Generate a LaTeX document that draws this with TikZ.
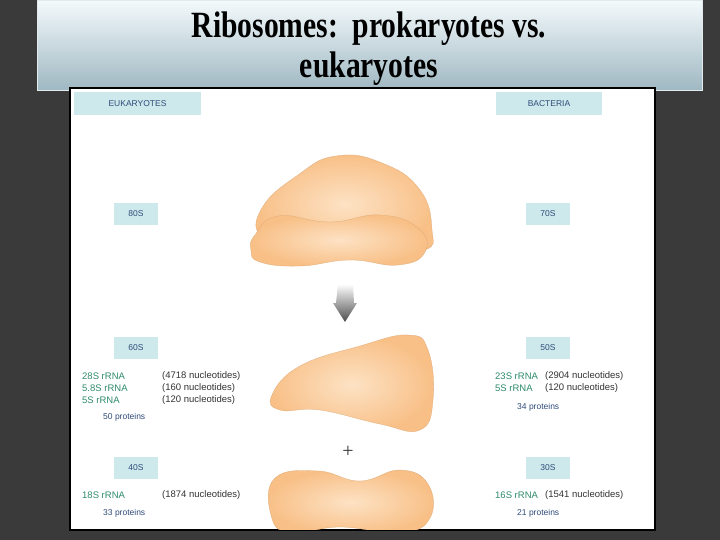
\documentclass[tikz,border=0pt]{standalone}
\usepackage{fontspec}
\setmainfont{Liberation Serif}
\setsansfont{Liberation Sans}
\newfontfamily\titlefont[FakeStretch=0.8]{Liberation Serif}
\begin{document}
\begin{tikzpicture}[x=1pt,y=-1pt,
  lab/.style={fill=labbg,font=\sffamily\fontsize{8.5}{9}\selectfont,text=labtx,inner sep=0pt,anchor=center},
  gr/.style={font=\sffamily\fontsize{9.5}{10}\selectfont,text=grn,anchor=west,inner sep=0pt},
  nt/.style={font=\sffamily\fontsize{9.5}{10}\selectfont,text=black!80,anchor=west,inner sep=0pt},
  pr/.style={font=\sffamily\fontsize{8.5}{10}\selectfont,text=labtx,anchor=west,inner sep=0pt},
  blob/.style={inner color=blobin,outer color=blobout,draw=blobout!90!black,line width=0.3pt}]
\definecolor{bg}{HTML}{3A3A3A}
\definecolor{labbg}{HTML}{CDE9EC}
\definecolor{labtx}{HTML}{2F4B7A}
\definecolor{grn}{HTML}{2E8B6A}
\definecolor{blobin}{HTML}{FDE2C4}
\definecolor{blobout}{HTML}{F8BF86}
\definecolor{ttop}{HTML}{F4FAFC}
\definecolor{tbot}{HTML}{9FB8C2}
\useasboundingbox (0,0) rectangle (720,540);
\fill[bg] (0,0) rectangle (720,540);
\shade[top color=ttop,bottom color=tbot,draw=white!70!tbot] (37,0) rectangle (702,90);
\node[font=\titlefont\bfseries\fontsize{37}{40}\selectfont,align=center,inner sep=0pt] (title) at (369,49) {Ribosomes:\ \ prokaryotes vs.\\eukaryotes};
\fill[white,draw=black,line width=2.5pt] (70,88) rectangle (655,530);
\begin{scope}
\clip (71,89) rectangle (654,529);
\node[lab,minimum width=127,minimum height=23] (euk) at (137.5,103.5) {EUKARYOTES};
\node[lab,minimum width=106,minimum height=23] (bac) at (549,103.5) {BACTERIA};
\node[lab,minimum width=44,minimum height=22] (e80) at (136,214) {80S};
\node[lab,minimum width=44,minimum height=22] (b70) at (548,214) {70S};
\node[lab,minimum width=44,minimum height=22] (e60) at (136,347.5) {60S};
\node[lab,minimum width=44,minimum height=22] (b50) at (548,347.5) {50S};
\node[lab,minimum width=44,minimum height=22] (e40) at (136,468) {40S};
\node[lab,minimum width=44,minimum height=22] (b30) at (548,468) {30S};
% 80S
\shade[blob] plot[smooth cycle,tension=0.8] coordinates{(298,175)(336,156)(382,163)(420,190)(432,230)(425,250)(380,252)(300,250)(262,238)(262,208)};
\shade[blob] plot[smooth cycle,tension=0.8] coordinates{(255,235)(278,216)(330,222)(380,215)(418,228)(425,252)(398,265)(350,260)(300,266)(260,262)(251,250)};
% arrow
\shade[top color=white,bottom color=black!70] (338,284) -- (353,284) -- (354,303) -- (357,303) -- (345,322) -- (333,303) -- (336,303) -- cycle;
% 60S
\shade[blob] plot[smooth cycle,tension=0.75] coordinates{(272,395)(300,366)(360,346)(408,335)(428,350)(433,400)(420,430)(380,424)(320,410)(280,410)};
\node[font=\fontsize{20}{20}\selectfont,text=black!80,inner sep=0pt] (plus) at (348,452) {+};
% 40S
\shade[blob] plot[smooth cycle,tension=0.75] coordinates{(275,478)(318,471)(360,481)(400,470)(428,484)(430,518)(400,533)(340,527)(290,533)(271,515)};
% texts left
\node[gr] (t1) at (82,376) {28S rRNA};
\node[nt] (n1) at (162,376) {(4718 nucleotides)};
\node[gr] (t2) at (82,388) {5.8S rRNA};
\node[nt] (n2) at (162,388) {(160 nucleotides)};
\node[gr] (t3) at (82,400) {5S rRNA};
\node[nt] (n3) at (162,400) {(120 nucleotides)};
\node[pr] (p1) at (103,417) {50 proteins};
\node[gr] (t4) at (82,495) {18S rRNA};
\node[nt] (n4) at (162,495) {(1874 nucleotides)};
\node[pr] (p2) at (103,513) {33 proteins};
% right
\node[gr] (t5) at (495,376) {23S rRNA};
\node[nt] (n5) at (545,376) {(2904 nucleotides)};
\node[gr] (t6) at (495,388) {5S rRNA};
\node[nt] (n6) at (545,388) {(120 nucleotides)};
\node[pr] (p3) at (517,407) {34 proteins};
\node[gr] (t7) at (495,495) {16S rRNA};
\node[nt] (n7) at (545,495) {(1541 nucleotides)};
\node[pr] (p4) at (517,513) {21 proteins};
\end{scope}
\end{tikzpicture}
\end{document}
